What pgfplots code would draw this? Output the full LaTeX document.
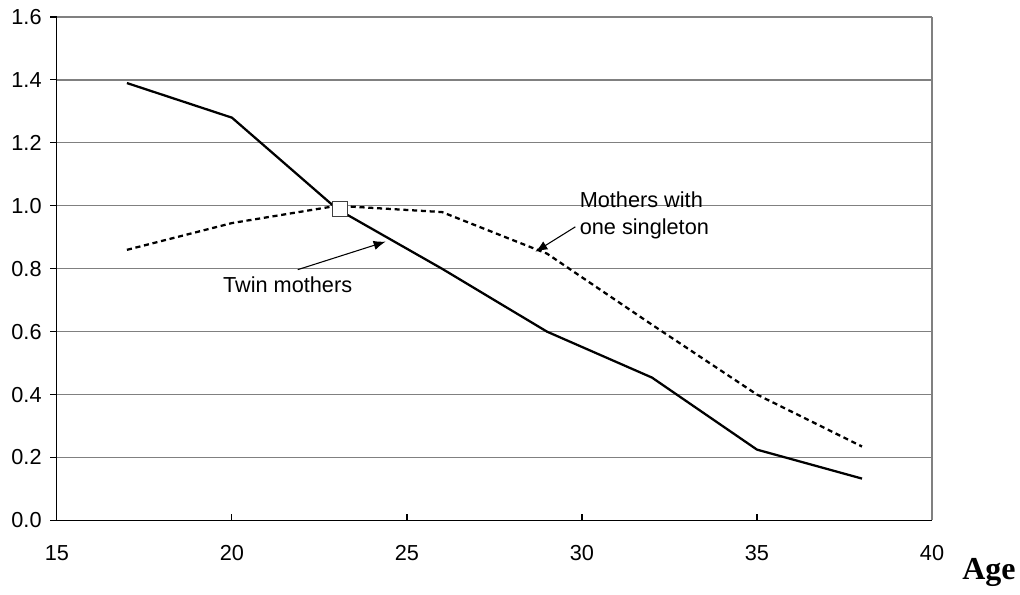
\documentclass[border=0pt]{standalone}
\usepackage{fontspec}
\setmainfont{Liberation Sans}
\newfontfamily\timesfont{Liberation Serif}
\usepackage{pgfplots}
\pgfplotsset{compat=1.18}
\usetikzlibrary{arrows.meta}

\begin{document}
\begin{tikzpicture}
\path (0,0) rectangle (765pt,446.25pt);
\begin{axis}[
    at={(42.75pt,55.5pt)}, anchor=south west,
    scale only axis, width=657pt, height=378pt,
    xmin=15, xmax=40, ymin=0, ymax=1.6,
    xtick={15,20,...,40}, ytick={0,0.2,...,1.6},
    axis line style={black, line width=0.8pt},
    axis x line*=bottom, axis y line*=left,
    ymajorgrids, grid style={gray, line width=0.9pt},
    xtick align=inside, ytick align=outside,
    major tick length=5pt,
    tick style={black, line width=0.8pt},
    y tick label style={/pgf/number format/fixed, /pgf/number format/fixed zerofill,
      /pgf/number format/precision=1},
    /pgf/number format/assume math mode=true,
    tick label style={font=\fontsize{16.3}{19}\selectfont},
    xticklabel style={yshift=-15pt},
    yticklabel style={xshift=-3pt},
    clip=false,
]
% right border of the plot area
\draw[gray, line width=0.9pt] (axis cs:40,0) -- (axis cs:40,1.6);

% twin mothers
\addplot[black, line width=1.7pt] coordinates {
  (17,1.39) (20,1.28) (23,0.99) (26,0.80) (29,0.60) (32,0.454) (35,0.225) (38,0.133)
};
% mothers with one singleton
\addplot[black, line width=1.7pt, dash pattern=on 3.8pt off 2.8pt] coordinates {
  (17,0.86) (20,0.945) (23,1.0) (26,0.98) (29,0.848) (32,0.622) (35,0.40) (38,0.235)
};
% marked point
\addplot[only marks, mark=square*, mark size=5.8pt,
  mark options={fill=white, draw=black!75, line width=0.8pt}] coordinates {(23.09,0.99)};

\node[font=\fontsize{16.3}{19}\selectfont] at (axis cs:21.59,0.749) {Twin mothers};
\draw[line width=0.8pt, -{Latex[length=9pt,width=7pt]}] (axis cs:21.88,0.797) -- (axis cs:24.39,0.886);

\node[font=\fontsize{16.3}{20}\selectfont, align=left, inner sep=0pt, anchor=west] at (axis cs:29.93,0.97)
  {Mothers with\\one singleton};
\draw[line width=0.8pt, -{Latex[length=9pt,width=7pt]}] (axis cs:29.81,0.933) -- (axis cs:28.67,0.854);
\end{axis}
\node[font=\timesfont\bfseries\fontsize{24}{26}\selectfont, anchor=base] at (742.5pt,11.25pt) {Age};
\end{tikzpicture}
\end{document}
